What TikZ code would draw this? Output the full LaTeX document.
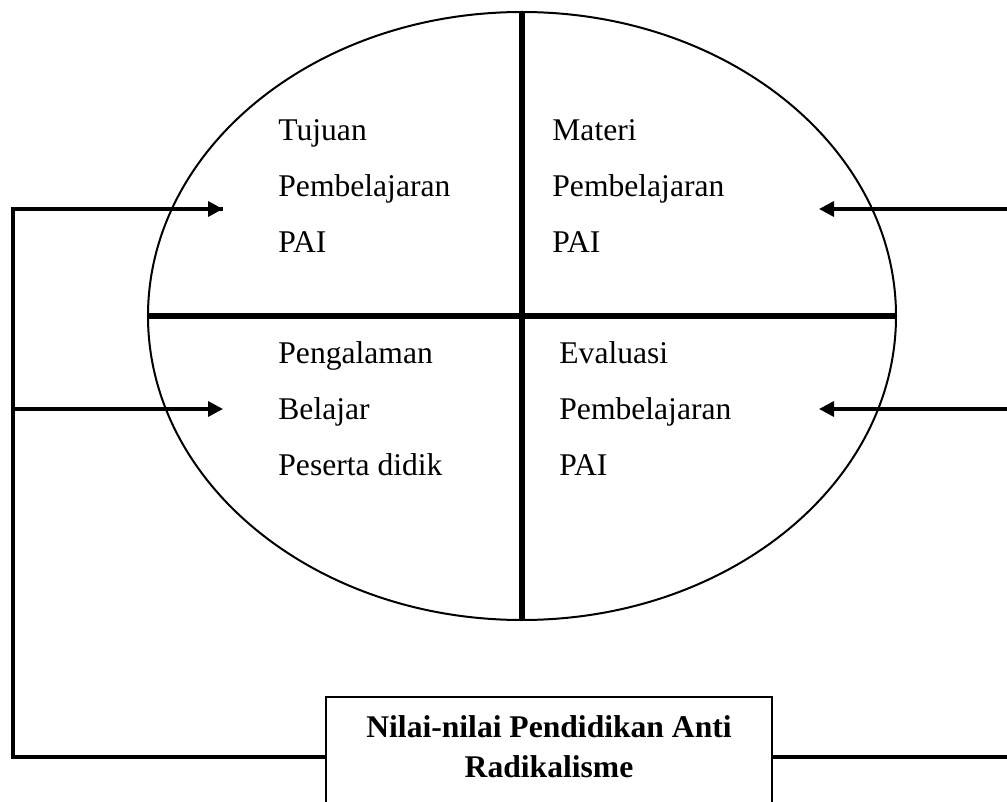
\documentclass[tikz,border=0pt]{standalone}
\usepackage{fontspec}
\setmainfont{Liberation Serif}
\usepackage{tikz}
\usetikzlibrary{arrows.meta,positioning,shapes.geometric}

\begin{document}
\begin{tikzpicture}[x=0.5pt,y=-0.5pt,
  quadtext/.style={anchor=north west,inner sep=0pt,align=left,font=\fontsize{15.8}{28}\selectfont},
  feed/.style={line width=1.7pt,-{Triangle[length=7.5pt,width=7.5pt]}},
  link/.style={line width=1.7pt}]
\useasboundingbox (0,0) rectangle (1007,802);
% circle of the four components
\node[ellipse,draw,line width=1pt,minimum width=374pt,minimum height=304pt,inner sep=0pt] (cycle) at (522,316) {};
\draw[line width=3.2pt] (cycle.north) -- (cycle.south);
\draw[line width=2.6pt] (cycle.west) -- (cycle.east);
\node[quadtext] (tujuan) at (278,119) {Tujuan\\Pembelajaran\\PAI};
\node[quadtext] (materi) at (552,119) {Materi\\Pembelajaran\\PAI};
\node[quadtext] (pengalaman) at (278,341) {Pengalaman\\Belajar\\Peserta didik};
\node[quadtext] (evaluasi) at (559,341) {Evaluasi\\Pembelajaran\\PAI};
% source box
\node[draw,line width=1.2pt,minimum width=223pt,minimum height=60pt,inner sep=0pt] (nilai) at (549,757) {};
\node[anchor=north,inner sep=0pt,align=center,font=\fontsize{15.8}{20}\selectfont\bfseries] (nilailbl) at (549,715) {Nilai-nilai Pendidikan Anti\\Radikalisme};
% feedback lines
\coordinate (lcol) at (13,757);
\coordinate (rcol) at (1013,757);
\coordinate (tipTL) at (223,209);
\coordinate (tipBL) at (223,409);
\coordinate (tipTR) at (819,209);
\coordinate (tipBR) at (819,409);
\draw[link] (nilai.west) -- (lcol) -- (lcol |- tipTL) -- (tipTL);
\draw[feed] (lcol |- tipTL) -- (tipTL);
\draw[feed] (lcol |- tipBL) -- (tipBL);
\draw[link] (nilai.east) -- (rcol) -- (rcol |- tipTR);
\draw[feed] (rcol |- tipTR) -- (tipTR);
\draw[feed] (rcol |- tipBR) -- (tipBR);
\end{tikzpicture}
\end{document}
